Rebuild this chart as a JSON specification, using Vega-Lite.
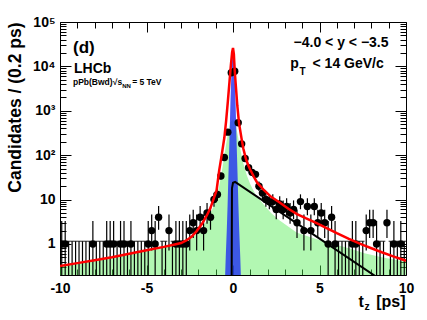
{
  "$schema": "https://vega.github.io/schema/vega-lite/v6.json",
  "width": 346,
  "height": 253,
  "autosize": {"type": "none"},
  "padding": {"left": 60, "top": 22, "right": 21, "bottom": 45},
  "background": "white",
  "config": {
    "view": {"stroke": null},
    "font": "Liberation Sans",
    "axis": {"grid": false, "domainColor": "black", "tickColor": "black", "domainWidth": 1, "tickWidth": 1, "labelColor": "black", "titleColor": "black", "labelFont": "Liberation Sans", "titleFont": "Liberation Sans", "labelFontWeight": "bold", "titleFontWeight": "bold", "labelOverlap": false, "labelFlush": false, "labelBound": false}
  },
  "datasets": {
    "bins": [
      {"t": -9.9, "n": 1, "lo": 0.17, "hi": 3.3}, {"t": -9.7, "n": 1, "lo": 0.17, "hi": 3.3},
      {"t": -9.5, "n": 0, "lo": 0.1, "hi": 1.15}, {"t": -9.3, "n": 0, "lo": 0.1, "hi": 1.15},
      {"t": -9.1, "n": 0, "lo": 0.1, "hi": 1.15}, {"t": -8.9, "n": 0, "lo": 0.1, "hi": 1.15},
      {"t": -8.7, "n": 0, "lo": 0.1, "hi": 1.15}, {"t": -8.5, "n": 0, "lo": 0.1, "hi": 1.15},
      {"t": -8.3, "n": 0, "lo": 0.1, "hi": 1.15}, {"t": -8.1, "n": 1, "lo": 0.17, "hi": 3.3},
      {"t": -7.9, "n": 0, "lo": 0.1, "hi": 1.15}, {"t": -7.7, "n": 0, "lo": 0.1, "hi": 1.15},
      {"t": -7.5, "n": 0, "lo": 0.1, "hi": 1.15}, {"t": -7.3, "n": 1, "lo": 0.17, "hi": 3.3},
      {"t": -7.1, "n": 1, "lo": 0.17, "hi": 3.3}, {"t": -6.9, "n": 1, "lo": 0.17, "hi": 3.3},
      {"t": -6.7, "n": 0, "lo": 0.1, "hi": 1.15}, {"t": -6.5, "n": 1, "lo": 0.17, "hi": 3.3},
      {"t": -6.3, "n": 1, "lo": 0.17, "hi": 3.3}, {"t": -6.1, "n": 0, "lo": 0.1, "hi": 1.15},
      {"t": -5.9, "n": 1, "lo": 0.17, "hi": 3.3}, {"t": -5.7, "n": 0, "lo": 0.1, "hi": 1.15},
      {"t": -5.5, "n": 0, "lo": 0.1, "hi": 1.15}, {"t": -5.3, "n": 0, "lo": 0.1, "hi": 1.15},
      {"t": -5.1, "n": 0, "lo": 0.1, "hi": 1.15}, {"t": -4.9, "n": 1, "lo": 0.17, "hi": 3.3},
      {"t": -4.7, "n": 2, "lo": 0.71, "hi": 4.64}, {"t": -4.5, "n": 1, "lo": 0.17, "hi": 3.3},
      {"t": -4.3, "n": 4, "lo": 2.09, "hi": 7.16}, {"t": -4.1, "n": 0, "lo": 0.1, "hi": 1.15},
      {"t": -3.9, "n": 0, "lo": 0.1, "hi": 1.15}, {"t": -3.7, "n": 2, "lo": 0.71, "hi": 4.64},
      {"t": -3.5, "n": 0, "lo": 0.1, "hi": 1.15}, {"t": -3.3, "n": 1, "lo": 0.17, "hi": 3.3},
      {"t": -3.1, "n": 1, "lo": 0.17, "hi": 3.3}, {"t": -2.9, "n": 1, "lo": 0.17, "hi": 3.3},
      {"t": -2.7, "n": 1, "lo": 0.17, "hi": 3.3}, {"t": -2.5, "n": 2, "lo": 0.71, "hi": 4.64},
      {"t": -2.3, "n": 3, "lo": 1.37, "hi": 5.92}, {"t": -2.1, "n": 2, "lo": 0.71, "hi": 4.64},
      {"t": -1.9, "n": 4, "lo": 2.09, "hi": 7.16}, {"t": -1.7, "n": 2, "lo": 0.71, "hi": 4.64},
      {"t": -1.5, "n": 5, "lo": 2.84, "hi": 8.38}, {"t": -1.3, "n": 4, "lo": 2.09, "hi": 7.16},
      {"t": -1.1, "n": 10, "lo": 6.89, "hi": 14.27}, {"t": -0.9, "n": 13, "lo": 9.4, "hi": 17.7},
      {"t": -0.7, "n": 34, "lo": 28.2, "hi": 40.0}, {"t": -0.5, "n": 89, "lo": 79.6, "hi": 98.4},
      {"t": -0.3, "n": 330, "lo": 312, "hi": 348}, {"t": -0.1, "n": 7200, "lo": 7115, "hi": 7285},
      {"t": 0.1, "n": 7800, "lo": 7712, "hi": 7888}, {"t": 0.3, "n": 540, "lo": 517, "hi": 563},
      {"t": 0.5, "n": 180, "lo": 167, "hi": 193}, {"t": 0.7, "n": 84, "lo": 74.8, "hi": 93.2},
      {"t": 0.9, "n": 52, "lo": 44.8, "hi": 59.2}, {"t": 1.1, "n": 41, "lo": 34.6, "hi": 47.4},
      {"t": 1.3, "n": 37, "lo": 31.0, "hi": 43.1}, {"t": 1.5, "n": 20, "lo": 15.6, "hi": 25.6},
      {"t": 1.7, "n": 14, "lo": 10.3, "hi": 18.8}, {"t": 1.9, "n": 10, "lo": 6.89, "hi": 14.27},
      {"t": 2.1, "n": 9, "lo": 6.06, "hi": 13.11}, {"t": 2.3, "n": 9, "lo": 6.06, "hi": 13.11},
      {"t": 2.5, "n": 6, "lo": 3.62, "hi": 9.58}, {"t": 2.7, "n": 8, "lo": 5.23, "hi": 11.95},
      {"t": 2.9, "n": 6, "lo": 3.62, "hi": 9.58}, {"t": 3.1, "n": 7, "lo": 4.42, "hi": 10.77},
      {"t": 3.3, "n": 5, "lo": 2.84, "hi": 8.38}, {"t": 3.5, "n": 6, "lo": 3.62, "hi": 9.58},
      {"t": 3.7, "n": 3, "lo": 1.37, "hi": 5.92}, {"t": 3.9, "n": 9, "lo": 6.06, "hi": 13.11},
      {"t": 4.1, "n": 2, "lo": 0.71, "hi": 4.64}, {"t": 4.3, "n": 7, "lo": 4.42, "hi": 10.77},
      {"t": 4.5, "n": 2, "lo": 0.71, "hi": 4.64}, {"t": 4.7, "n": 7, "lo": 4.42, "hi": 10.77},
      {"t": 4.9, "n": 3, "lo": 1.37, "hi": 5.92}, {"t": 5.1, "n": 5, "lo": 2.84, "hi": 8.38},
      {"t": 5.3, "n": 3, "lo": 1.37, "hi": 5.92}, {"t": 5.5, "n": 1, "lo": 0.17, "hi": 3.3},
      {"t": 5.7, "n": 4, "lo": 2.09, "hi": 7.16}, {"t": 5.9, "n": 1, "lo": 0.17, "hi": 3.3},
      {"t": 6.1, "n": 0, "lo": 0.1, "hi": 1.15}, {"t": 6.3, "n": 0, "lo": 0.1, "hi": 1.15},
      {"t": 6.5, "n": 0, "lo": 0.1, "hi": 1.15}, {"t": 6.7, "n": 0, "lo": 0.1, "hi": 1.15},
      {"t": 6.9, "n": 1, "lo": 0.17, "hi": 3.3}, {"t": 7.1, "n": 1, "lo": 0.17, "hi": 3.3},
      {"t": 7.3, "n": 0, "lo": 0.1, "hi": 1.15}, {"t": 7.5, "n": 0, "lo": 0.1, "hi": 1.15},
      {"t": 7.7, "n": 2, "lo": 0.71, "hi": 4.64}, {"t": 7.9, "n": 3, "lo": 1.37, "hi": 5.92},
      {"t": 8.1, "n": 3, "lo": 1.37, "hi": 5.92}, {"t": 8.3, "n": 1, "lo": 0.17, "hi": 3.3},
      {"t": 8.5, "n": 0, "lo": 0.1, "hi": 1.15}, {"t": 8.7, "n": 0, "lo": 0.1, "hi": 1.15},
      {"t": 8.9, "n": 3, "lo": 1.37, "hi": 5.92}, {"t": 9.1, "n": 0, "lo": 0.1, "hi": 1.15},
      {"t": 9.3, "n": 1, "lo": 0.17, "hi": 3.3}, {"t": 9.5, "n": 0, "lo": 0.1, "hi": 1.15},
      {"t": 9.7, "n": 1, "lo": 0.17, "hi": 3.3}, {"t": 9.9, "n": 0, "lo": 0.1, "hi": 1.15}
    ],
    "red": [
      {"t": -10, "v": 0.32}, {"t": -9, "v": 0.37}, {"t": -8, "v": 0.43}, {"t": -7, "v": 0.5},
      {"t": -6, "v": 0.6}, {"t": -5, "v": 0.72}, {"t": -4, "v": 0.86}, {"t": -3.5, "v": 0.95},
      {"t": -3, "v": 1.05}, {"t": -2.7, "v": 1.2}, {"t": -2.4, "v": 1.45}, {"t": -2.1, "v": 1.95},
      {"t": -1.8, "v": 2.8}, {"t": -1.5, "v": 4.5}, {"t": -1.3, "v": 6.5}, {"t": -1.1, "v": 11},
      {"t": -0.95, "v": 16}, {"t": -0.8, "v": 45}, {"t": -0.65, "v": 103}, {"t": -0.5, "v": 250},
      {"t": -0.4, "v": 580}, {"t": -0.3, "v": 1580}, {"t": -0.2, "v": 4650}, {"t": -0.12, "v": 11000},
      {"t": -0.05, "v": 21000}, {"t": 0, "v": 26000}, {"t": 0.05, "v": 19000}, {"t": 0.1, "v": 8000},
      {"t": 0.15, "v": 4300}, {"t": 0.25, "v": 1300}, {"t": 0.35, "v": 520}, {"t": 0.5, "v": 230},
      {"t": 0.6, "v": 140}, {"t": 0.75, "v": 82}, {"t": 0.9, "v": 57}, {"t": 1.0, "v": 47},
      {"t": 1.2, "v": 33}, {"t": 1.4, "v": 24}, {"t": 1.75, "v": 17}, {"t": 2.2, "v": 11.5},
      {"t": 2.7, "v": 8.6}, {"t": 3.2, "v": 6.2}, {"t": 3.7, "v": 4.7}, {"t": 4.2, "v": 3.8},
      {"t": 4.8, "v": 3.0}, {"t": 5.5, "v": 2.2}, {"t": 6.0, "v": 1.75}, {"t": 6.7, "v": 1.3},
      {"t": 7.5, "v": 0.95}, {"t": 8.0, "v": 0.8}, {"t": 8.6, "v": 0.65}, {"t": 9.3, "v": 0.52},
      {"t": 10, "v": 0.42}
    ],
    "green": [
      {"t": -10, "v": 0.32}, {"t": -8, "v": 0.43}, {"t": -6, "v": 0.6}, {"t": -5, "v": 0.72},
      {"t": -4, "v": 0.86}, {"t": -3, "v": 1.0}, {"t": -2.5, "v": 1.25}, {"t": -2.1, "v": 1.7},
      {"t": -1.7, "v": 2.6}, {"t": -1.4, "v": 4}, {"t": -1.2, "v": 6}, {"t": -1.0, "v": 9},
      {"t": -0.8, "v": 20}, {"t": -0.6, "v": 55}, {"t": -0.45, "v": 130}, {"t": -0.3, "v": 300},
      {"t": -0.15, "v": 550}, {"t": 0, "v": 650}, {"t": 0.15, "v": 500}, {"t": 0.3, "v": 250},
      {"t": 0.45, "v": 120}, {"t": 0.6, "v": 65}, {"t": 0.8, "v": 35}, {"t": 1.0, "v": 22},
      {"t": 1.3, "v": 13}, {"t": 1.75, "v": 8}, {"t": 2.2, "v": 5}, {"t": 2.7, "v": 3.4},
      {"t": 3.7, "v": 1.8}, {"t": 4.8, "v": 1.3}, {"t": 5.8, "v": 1.0}, {"t": 6.7, "v": 0.8},
      {"t": 7.6, "v": 0.62}, {"t": 8.6, "v": 0.5}, {"t": 10, "v": 0.4}
    ],
    "blue": [
      {"t": -0.48, "v": 0.1}, {"t": -0.42, "v": 0.5}, {"t": -0.36, "v": 2}, {"t": -0.31, "v": 8},
      {"t": -0.27, "v": 30}, {"t": -0.23, "v": 100}, {"t": -0.19, "v": 350}, {"t": -0.15, "v": 1500},
      {"t": -0.1, "v": 6000}, {"t": -0.05, "v": 15000}, {"t": 0, "v": 21000}, {"t": 0.05, "v": 15000},
      {"t": 0.1, "v": 6000}, {"t": 0.15, "v": 1500}, {"t": 0.19, "v": 350}, {"t": 0.23, "v": 100},
      {"t": 0.27, "v": 30}, {"t": 0.31, "v": 8}, {"t": 0.36, "v": 2}, {"t": 0.42, "v": 0.5},
      {"t": 0.48, "v": 0.1}
    ],
    "black": [
      {"t": -0.08, "v": 0.1}, {"t": -0.06, "v": 18}, {"t": 0.0, "v": 24}, {"t": 0.12, "v": 25},
      {"t": 8.5, "v": 0.16}
    ]
  },
  "layer": [
    {
      "layer": [
        {
          "data": {"name": "green"},
          "mark": {"type": "area", "clip": true, "color": "#55ee55", "fillOpacity": 0.45},
          "encoding": {
            "x": {"field": "t", "type": "quantitative", "scale": {"domain": [-10, 10], "nice": false, "zero": false},
              "axis": {"orient": "bottom", "title": null,
                "values": [-10, -5, 0, 5, 10],
                "labelExpr": "datum.value < 0 ? '-' + (-datum.value) : '' + datum.value",
                "tickSize": -10,
                "labelOverlap": false, "labelBound": false, "labelFlush": false,
                "labelPadding": 16, "labelFontSize": 14}},
            "y": {"field": "v", "type": "quantitative", "scale": {"type": "log", "domain": [0.2, 100000], "nice": false},
              "title": "Candidates / (0.2 ps)",
              "axis": {"orient": "left",
                "values": [0.3, 0.4, 0.5, 0.6, 0.7, 0.8, 0.9, 1, 2, 3, 4, 5, 6, 7, 8, 9, 10, 20, 30, 40, 50, 60, 70, 80, 90, 100, 200, 300, 400, 500, 600, 700, 800, 900, 1000, 2000, 3000, 4000, 5000, 6000, 7000, 8000, 9000, 10000, 20000, 30000, 40000, 50000, 60000, 70000, 80000, 90000, 100000],
                "labelExpr": "datum.value == 1 ? '1' : datum.value == 10 ? '10' : datum.value == 100 ? '10²' : datum.value == 1000 ? '10³' : datum.value == 10000 ? '10⁴' : datum.value == 100000 ? '10⁵' : ''",
                "tickSize": {"condition": {"test": "indexof([1, 10, 100, 1000, 10000, 100000], datum.value) >= 0", "value": -11}, "value": -6},
                "labelOverlap": false,
                "labelPadding": 16, "labelFontSize": 14, "titleFontSize": 17.5, "titleAnchor": "end", "titlePadding": 8}},
            "y2": {"datum": 0.1}
          }
        },
        {
          "data": {"name": "blue"},
          "mark": {"type": "area", "clip": true, "color": "#1f30f0", "fillOpacity": 0.8},
          "encoding": {
            "x": {"field": "t", "type": "quantitative"},
            "y": {"field": "v", "type": "quantitative", "title": "Candidates / (0.2 ps)"},
            "y2": {"datum": 0.1}
          }
        },
        {
          "data": {"name": "black"},
          "mark": {"type": "line", "clip": true, "color": "black", "strokeWidth": 2},
          "encoding": {
            "x": {"field": "t", "type": "quantitative"},
            "y": {"field": "v", "type": "quantitative", "title": "Candidates / (0.2 ps)"}
          }
        },
        {
          "data": {"name": "bins"},
          "mark": {"type": "rule", "clip": true, "color": "black", "strokeWidth": 1.2},
          "encoding": {
            "x": {"field": "t", "type": "quantitative"},
            "y": {"field": "lo", "type": "quantitative", "title": "Candidates / (0.2 ps)"},
            "y2": {"field": "hi"}
          }
        },
        {
          "data": {"name": "bins"},
          "transform": [{"filter": "datum.n == 0"}],
          "mark": {"type": "tick", "orient": "horizontal", "clip": true, "color": "black", "size": 3.6, "thickness": 1.2},
          "encoding": {
            "x": {"field": "t", "type": "quantitative"},
            "y": {"field": "hi", "type": "quantitative", "title": "Candidates / (0.2 ps)"}
          }
        },
        {
          "data": {"name": "bins"},
          "transform": [{"filter": "datum.n > 0"}],
          "mark": {"type": "tick", "orient": "horizontal", "clip": true, "color": "black", "size": 3.6, "thickness": 1.2},
          "encoding": {
            "x": {"field": "t", "type": "quantitative"},
            "y": {"field": "n", "type": "quantitative", "title": "Candidates / (0.2 ps)"}
          }
        },
        {
          "data": {"name": "bins"},
          "transform": [{"filter": "datum.n > 0"}],
          "mark": {"type": "point", "filled": true, "clip": true, "color": "black", "size": 55, "opacity": 1},
          "encoding": {
            "x": {"field": "t", "type": "quantitative"},
            "y": {"field": "n", "type": "quantitative", "title": "Candidates / (0.2 ps)"}
          }
        },
        {
          "data": {"name": "red"},
          "mark": {"type": "line", "clip": true, "color": "#ff0000", "strokeWidth": 2.5},
          "encoding": {
            "x": {"field": "t", "type": "quantitative"},
            "y": {"field": "v", "type": "quantitative", "title": "Candidates / (0.2 ps)"}
          }
        },
        {
          "data": {"values": [{"s": "(d)"}]},
          "mark": {"type": "text", "align": "left", "baseline": "alphabetic", "fontSize": 17, "fontWeight": "bold", "font": "Liberation Sans", "color": "black"},
          "encoding": {"x": {"datum": -9.25}, "y": {"datum": 20500}, "text": {"field": "s"}}
        },
        {
          "data": {"values": [{"s": "LHCb"}]},
          "mark": {"type": "text", "align": "left", "baseline": "alphabetic", "fontSize": 14, "fontWeight": "bold", "font": "Liberation Sans", "color": "black"},
          "encoding": {"x": {"datum": -9.19}, "y": {"datum": 6920}, "text": {"field": "s"}}
        },
        {
          "data": {"values": [{"s": "pPb(Bwd)"}]},
          "mark": {"type": "text", "align": "left", "baseline": "alphabetic", "fontSize": 8.5, "fontWeight": "bold", "font": "Liberation Sans", "color": "black"},
          "encoding": {"x": {"datum": -9.25}, "y": {"datum": 3715}, "text": {"field": "s"}}
        },
        {
          "data": {"values": [{"s": "√s"}]},
          "mark": {"type": "text", "align": "left", "baseline": "alphabetic", "fontSize": 8.5, "fontWeight": "bold", "font": "Liberation Sans", "color": "black"},
          "encoding": {"x": {"datum": -6.95}, "y": {"datum": 3715}, "text": {"field": "s"}}
        },
        {
          "data": {"values": [{"s": "NN"}]},
          "mark": {"type": "text", "align": "left", "baseline": "alphabetic", "fontSize": 6, "fontWeight": "bold", "font": "Liberation Sans", "color": "black"},
          "encoding": {"x": {"datum": -6.4}, "y": {"datum": 3180}, "text": {"field": "s"}}
        },
        {
          "data": {"values": [{"s": "= 5 TeV"}]},
          "mark": {"type": "text", "align": "left", "baseline": "alphabetic", "fontSize": 8.5, "fontWeight": "bold", "font": "Liberation Sans", "color": "black"},
          "encoding": {"x": {"datum": -5.83}, "y": {"datum": 3715}, "text": {"field": "s"}}
        },
        {
          "data": {"values": [{"s": "−4.0 < y < −3.5"}]},
          "mark": {"type": "text", "align": "right", "baseline": "alphabetic", "fontSize": 14, "fontWeight": "bold", "font": "Liberation Sans", "color": "black"},
          "encoding": {"x": {"datum": 8.99}, "y": {"datum": 28060}, "text": {"field": "s"}}
        },
        {
          "data": {"values": [{"s": "p"}]},
          "mark": {"type": "text", "align": "left", "baseline": "alphabetic", "fontSize": 14, "fontWeight": "bold", "font": "Liberation Sans", "color": "black"},
          "encoding": {"x": {"datum": 3.31}, "y": {"datum": 9300}, "text": {"field": "s"}}
        },
        {
          "data": {"values": [{"s": "T"}]},
          "mark": {"type": "text", "align": "left", "baseline": "alphabetic", "fontSize": 10, "fontWeight": "bold", "font": "Liberation Sans", "color": "black"},
          "encoding": {"x": {"datum": 3.84}, "y": {"datum": 6240}, "text": {"field": "s"}}
        },
        {
          "data": {"values": [{"s": "< 14 GeV/c"}]},
          "mark": {"type": "text", "align": "right", "baseline": "alphabetic", "fontSize": 14, "fontWeight": "bold", "font": "Liberation Sans", "color": "black"},
          "encoding": {"x": {"datum": 8.715}, "y": {"datum": 9300}, "text": {"field": "s"}}
        },
        {
          "data": {"values": [{"s": "t"}]},
          "mark": {"type": "text", "align": "left", "baseline": "alphabetic", "fontSize": 16, "fontWeight": "bold", "font": "Liberation Sans", "color": "black"},
          "encoding": {"x": {"datum": 7.25}, "y": {"datum": 0.0371}, "text": {"field": "s"}}
        },
        {
          "data": {"values": [{"s": "z"}]},
          "mark": {"type": "text", "align": "left", "baseline": "alphabetic", "fontSize": 10.5, "fontWeight": "bold", "font": "Liberation Sans", "color": "black"},
          "encoding": {"x": {"datum": 7.6}, "y": {"datum": 0.0318}, "text": {"field": "s"}}
        },
        {
          "data": {"values": [{"s": "[ps]"}]},
          "mark": {"type": "text", "align": "right", "baseline": "alphabetic", "fontSize": 16, "fontWeight": "bold", "font": "Liberation Sans", "color": "black"},
          "encoding": {"x": {"datum": 9.97}, "y": {"datum": 0.0371}, "text": {"field": "s"}}
        }
      ]
    },
    {
      "data": {"name": "red"},
      "mark": {"type": "line", "opacity": 0},
      "encoding": {
        "x": {"field": "t", "type": "quantitative",
          "axis": {"orient": "top", "title": null, "labels": false,
            "values": [-10, -9, -8, -7, -6, -5, -4, -3, -2, -1, 0, 1, 2, 3, 4, 5, 6, 7, 8, 9, 10],
            "tickSize": {"condition": {"test": "indexof([-10, -5, 0, 5, 10], datum.value) >= 0", "value": -10}, "value": -6}}},
        "y": {"field": "v", "type": "quantitative",
          "axis": {"orient": "right", "title": null, "labels": false,
            "values": [0.3, 0.4, 0.5, 0.6, 0.7, 0.8, 0.9, 1, 2, 3, 4, 5, 6, 7, 8, 9, 10, 20, 30, 40, 50, 60, 70, 80, 90, 100, 200, 300, 400, 500, 600, 700, 800, 900, 1000, 2000, 3000, 4000, 5000, 6000, 7000, 8000, 9000, 10000, 20000, 30000, 40000, 50000, 60000, 70000, 80000, 90000, 100000],
            "tickSize": {"condition": {"test": "indexof([1, 10, 100, 1000, 10000, 100000], datum.value) >= 0", "value": -11}, "value": -6}}}
      }
    },
    {
      "data": {"name": "red"},
      "mark": {"type": "line", "opacity": 0},
      "encoding": {
        "x": {"field": "t", "type": "quantitative",
          "axis": {"orient": "bottom", "title": null, "labels": false, "domain": false,
            "values": [-9, -8, -7, -6, -4, -3, -2, -1, 1, 2, 3, 4, 6, 7, 8, 9],
            "tickSize": -6}},
        "y": {"field": "v", "type": "quantitative", "axis": null}
      }
    }
  ],
  "resolve": {"axis": {"x": "independent", "y": "independent"}}
}
